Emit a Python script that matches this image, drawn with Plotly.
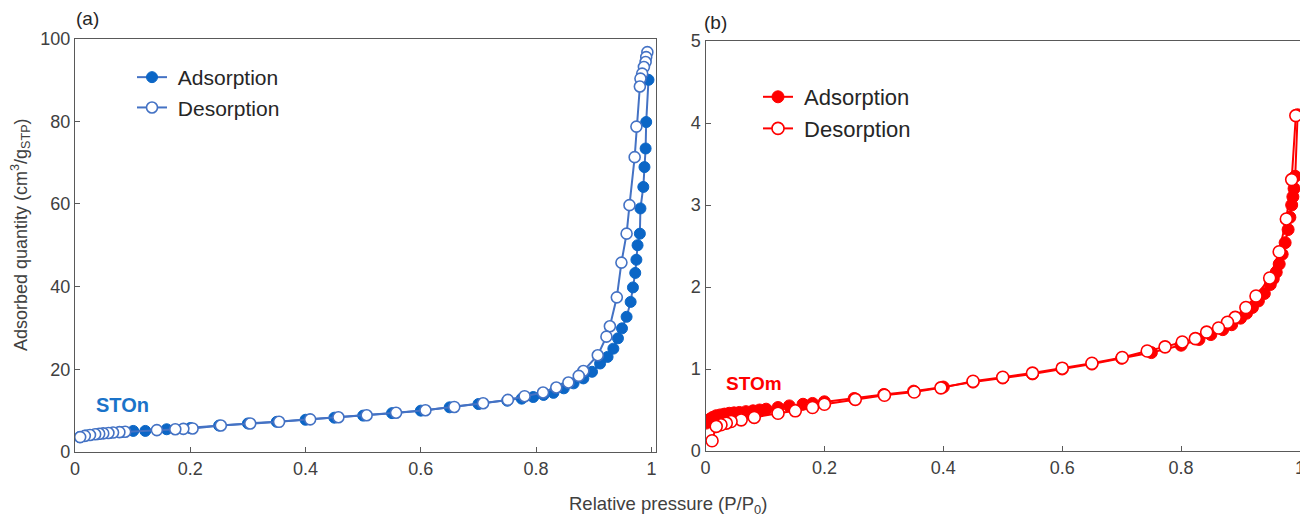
import plotly.graph_objects as go

# ---- STOn isotherm, panel (a) ----
ston_ads_p = [0.008, 0.02, 0.04, 0.06, 0.08, 0.101, 0.122, 0.159, 0.20, 0.25, 0.30, 0.35,
              0.40, 0.45, 0.50, 0.55, 0.60, 0.65, 0.70, 0.75, 0.775, 0.795, 0.813, 0.830,
              0.848, 0.865, 0.882, 0.897, 0.911, 0.924, 0.934, 0.942, 0.949, 0.957, 0.964,
              0.968, 0.972, 0.974, 0.976, 0.980, 0.981, 0.986, 0.988, 0.990, 0.991, 0.995]
ston_ads_q = [3.6, 4.0, 4.3, 4.6, 4.8, 5.1, 5.1, 5.5, 5.8, 6.4, 6.9, 7.3,
              7.8, 8.3, 8.8, 9.4, 10.0, 10.8, 11.6, 12.4, 12.9, 13.3, 13.8, 14.3,
              15.4, 16.6, 17.8, 19.4, 21.4, 23.0, 25.0, 27.5, 29.9, 32.7, 36.3,
              39.8, 43.3, 46.5, 50.0, 52.8, 58.9, 64.1, 68.9, 73.4, 79.8, 90.0]

ston_des_p = [0.993, 0.991, 0.990, 0.987, 0.984, 0.981, 0.980, 0.974, 0.971, 0.962, 0.957,
              0.948, 0.940, 0.928, 0.922, 0.907, 0.882, 0.874, 0.856, 0.835, 0.812, 0.780,
              0.751, 0.708, 0.658, 0.608, 0.557, 0.506, 0.457, 0.408, 0.354, 0.304, 0.253,
              0.204, 0.188, 0.174, 0.142, 0.087, 0.077, 0.066, 0.058, 0.049, 0.042, 0.035,
              0.026, 0.017, 0.009]
ston_des_q = [96.7, 95.5, 94.3, 93.1, 91.5, 90.3, 88.4, 78.7, 71.3, 59.7, 52.8,
              45.8, 37.4, 30.4, 27.9, 23.4, 19.6, 18.4, 16.8, 15.6, 14.4, 13.5,
              12.6, 11.8, 10.9, 10.1, 9.5, 8.9, 8.4, 7.9, 7.3, 6.9, 6.4,
              5.7, 5.6, 5.5, 5.3, 4.9, 4.8, 4.7, 4.6, 4.5, 4.4, 4.3,
              4.1, 3.9, 3.6]

# ---- STOm isotherm, panel (b) ----
stom_ads_p = [0.001, 0.004, 0.008, 0.012, 0.018, 0.025, 0.032, 0.040, 0.048, 0.057, 0.068,
              0.080, 0.091, 0.102, 0.122, 0.141, 0.164, 0.18, 0.20, 0.25, 0.30, 0.35, 0.40,
              0.45, 0.50, 0.55, 0.60, 0.65, 0.70, 0.75, 0.80, 0.83, 0.85, 0.87, 0.885,
              0.90, 0.91, 0.92, 0.93, 0.94, 0.95, 0.955, 0.96, 0.965, 0.97, 0.975, 0.98,
              0.983, 0.986, 0.988, 0.990, 0.992, 0.996]
stom_ads_q = [0.34, 0.37, 0.39, 0.41, 0.43, 0.44, 0.45, 0.46, 0.465, 0.47, 0.48,
              0.49, 0.50, 0.51, 0.53, 0.55, 0.57, 0.58, 0.60, 0.64, 0.69, 0.73, 0.78,
              0.84, 0.89, 0.94, 1.00, 1.06, 1.13, 1.20, 1.29, 1.36, 1.42, 1.48, 1.54,
              1.62, 1.68, 1.75, 1.83, 1.92, 2.03, 2.10, 2.18, 2.28, 2.40, 2.54, 2.70,
              2.85, 3.00, 3.10, 3.20, 3.35, 4.10]

stom_des_p = [0.993, 0.986, 0.977, 0.965, 0.949, 0.926, 0.909, 0.891, 0.878, 0.863, 0.843,
              0.824, 0.802, 0.773, 0.743, 0.701, 0.65, 0.60, 0.55, 0.50, 0.45, 0.396,
              0.351, 0.301, 0.252, 0.200, 0.180, 0.151, 0.122, 0.082, 0.060, 0.043,
              0.035, 0.026, 0.018, 0.011]
stom_des_q = [4.09, 3.31, 2.83, 2.43, 2.11, 1.89, 1.75, 1.63, 1.57, 1.50, 1.45,
              1.37, 1.33, 1.27, 1.22, 1.14, 1.07, 1.01, 0.95, 0.90, 0.85, 0.77,
              0.72, 0.68, 0.63, 0.57, 0.53, 0.49, 0.46, 0.41, 0.38, 0.36,
              0.34, 0.32, 0.30, 0.125]

x_tick_vals = [0, 0.2, 0.4, 0.6, 0.8, 1]
x_tick_text = ["0", "0.2", "0.4", "0.6", "0.8", "1"]
ya_tick_vals = [0, 20, 40, 60, 80, 100]
yb_tick_vals = [0, 1, 2, 3, 4, 5]

FONT = "Liberation Sans, Arial, sans-serif"
BLUE_LINE = "#4472C4"
BLUE_FILL = "#0B66C6"
RED = "#FF0000"
AXIS = "#595959"
TEXT = "#404040"
NBSP = "\u00a0"

W, H = 1300, 518

fig = go.Figure()

fig.add_trace(go.Scatter(
    x=ston_ads_p, y=ston_ads_q, name=NBSP + "Adsorption", mode="lines+markers",
    line=dict(color=BLUE_LINE, width=2),
    marker=dict(symbol="circle", size=11, color=BLUE_FILL,
                line=dict(color=BLUE_FILL, width=1)),
    xaxis="x", yaxis="y", legend="legend"))
fig.add_trace(go.Scatter(
    x=ston_des_p, y=ston_des_q, name=NBSP + "Desorption", mode="lines+markers",
    line=dict(color=BLUE_LINE, width=2),
    marker=dict(symbol="circle", size=11, color="white",
                line=dict(color=BLUE_LINE, width=1.6)),
    xaxis="x", yaxis="y", legend="legend"))

fig.add_trace(go.Scatter(
    x=stom_ads_p, y=stom_ads_q, name=NBSP + "Adsorption", mode="lines+markers",
    line=dict(color=RED, width=2),
    marker=dict(symbol="circle", size=12, color=RED,
                line=dict(color=RED, width=1)),
    xaxis="x2", yaxis="y2", legend="legend2"))
fig.add_trace(go.Scatter(
    x=stom_des_p, y=stom_des_q, name=NBSP + "Desorption", mode="lines+markers",
    line=dict(color=RED, width=2),
    marker=dict(symbol="circle", size=12, color="white",
                line=dict(color=RED, width=1.6)),
    xaxis="x2", yaxis="y2", legend="legend2"))

def px_x(p):
    return p / W

def px_y(p):
    return 1 - p / H

axis_common = dict(
    showline=True, linecolor=AXIS, linewidth=1.3,
    ticks="inside", ticklen=5, tickwidth=1.2, tickcolor=AXIS,
    showgrid=False, zeroline=False, automargin=False,
    tickfont=dict(family=FONT, size=18, color=TEXT),
)

fig.update_layout(
    template="none",
    width=W, height=H,
    margin=dict(l=0, r=0, t=0, b=0, pad=0, autoexpand=False),
    paper_bgcolor="white", plot_bgcolor="white",
    font=dict(family=FONT, color=TEXT),
    xaxis=dict(domain=[px_x(75), px_x(656)], range=[0, 1.008],
               tickvals=x_tick_vals, ticktext=x_tick_text, mirror=True,
               anchor="y", **axis_common),
    yaxis=dict(domain=[px_y(452), px_y(38.5)], range=[0, 100],
               tickvals=ya_tick_vals, mirror=True, anchor="x", **axis_common),
    xaxis2=dict(domain=[px_x(705.5), 1.0], range=[0, 1.0],
                tickvals=x_tick_vals, ticktext=x_tick_text, mirror=True,
                ticklabeloverflow="allow", anchor="y2", **axis_common),
    yaxis2=dict(domain=[px_y(451), px_y(41)], range=[0, 5],
                tickvals=yb_tick_vals, anchor="x2", **axis_common),
    legend=dict(x=px_x(132), y=px_y(57), xanchor="left", yanchor="top",
                bgcolor="rgba(0,0,0,0)", font=dict(family=FONT, size=21, color="#262626")),
    legend2=dict(x=px_x(758), y=px_y(76), xanchor="left", yanchor="top",
                 bgcolor="rgba(0,0,0,0)", font=dict(family=FONT, size=22, color="#262626")),
    showlegend=True,
)

annotations = [
    dict(text="(a)", x=px_x(74), y=px_y(18), xanchor="left", yanchor="middle",
         font=dict(size=19, color="#262626")),
    dict(text="(b)", x=px_x(702), y=px_y(22), xanchor="left", yanchor="middle",
         font=dict(size=19, color="#262626")),
    dict(text="<b>STOn</b>", x=px_x(94), y=px_y(405), xanchor="left", yanchor="middle",
         font=dict(size=20, color="#1A73C9")),
    dict(text="<b>STOm</b>", x=px_x(724), y=px_y(383), xanchor="left", yanchor="middle",
         font=dict(size=19, color=RED)),
    dict(text="Adsorbed quantity (cm<sup>3</sup>/g<sub>STP</sub>)", textangle=-90,
         x=px_x(20), y=px_y(235), xanchor="center", yanchor="middle",
         font=dict(size=18, color=TEXT)),
    dict(text="Relative pressure (P/P<sub>0</sub>)",
         x=px_x(668), y=px_y(505), xanchor="center", yanchor="middle",
         font=dict(size=18.5, color=TEXT)),
]
for a in annotations:
    a.update(xref="paper", yref="paper", showarrow=False)
    a["font"]["family"] = FONT
fig.update_layout(annotations=annotations)

fig.write_html("out.html")
